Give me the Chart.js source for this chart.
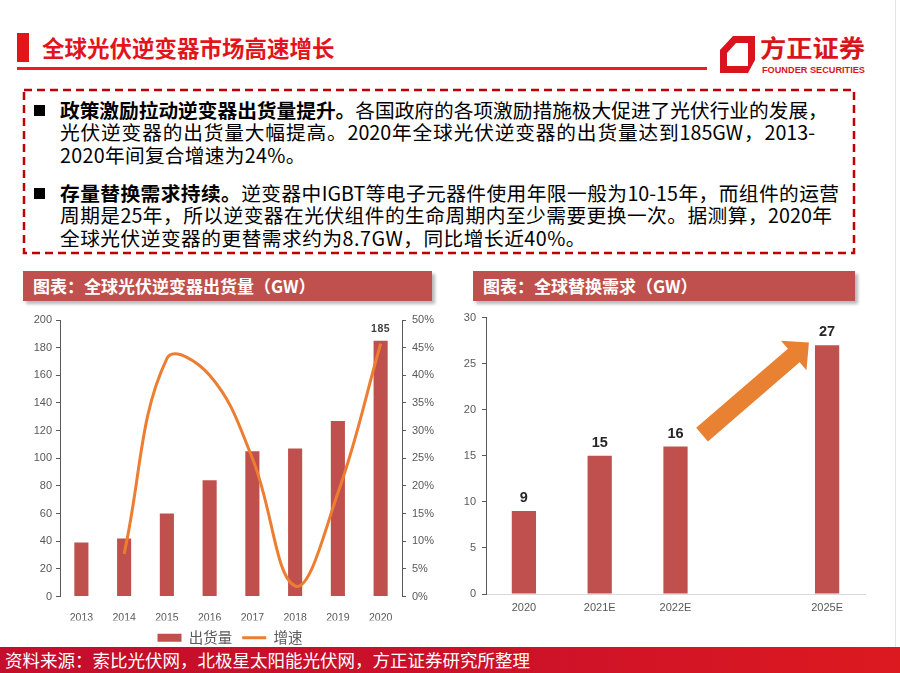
<!DOCTYPE html>
<html lang="zh-CN">
<head>
<meta charset="utf-8">
<title>全球光伏逆变器市场高速增长</title>
<script src="https://cdn.jsdelivr.net/npm/chart.js@4.4.1/dist/chart.umd.min.js"></script>
<style>
  html, body { margin: 0; padding: 0; background: #fff; }
  body { width: 900px; height: 673px; position: relative; overflow: hidden; font-family: "Noto Sans CJK SC", sans-serif; }
  .abs { position: absolute; }
  #titleBar { left: 17px; top: 33px; width: 12px; height: 29px; background: #E3141C; }
  #title { left: 42px; top: 31px; height: 32px; line-height: 32px; font-size: 22.5px; font-weight: bold; color: #E3141C; white-space: nowrap; }
  #rule { left: 17px; top: 67px; width: 690px; height: 3px; background: #EE1C25; }
  #edge { left: 895px; top: 0; width: 1px; height: 673px; background: #e4e4e4; }
  .bullet { width: 11px; height: 11px; background: #000; }
  .para { font-size: 19.7px; line-height: 22.7px; color: #000; white-space: nowrap; }
  .para .fit { text-align: justify; text-align-last: justify; }
  .hdr { height: 30px; line-height: 30px; background: #C0504D; color: #fff; font-weight: bold; font-size: 17px;
         padding-left: 10px; box-sizing: border-box; box-shadow: 3px 3px 3px rgba(0,0,0,0.28); white-space: nowrap; }
  #footer { left: 0; top: 647px; width: 900px; height: 26px; line-height: 26px; box-sizing: border-box; padding-left: 5px;
            background: linear-gradient(to right, #C40E2C, #CC1129 55%, #DC191F); color: #fff; font-size: 17.5px; white-space: nowrap; z-index: 5; }
</style>
</head>
<body>
<div class="abs" id="titleBar"></div>
<div class="abs" id="title">全球光伏逆变器市场高速增长</div>
<div class="abs" id="rule"></div>
<div class="abs" id="edge"></div>

<svg class="abs" style="left:0;top:0" width="900" height="90">
  <path fill="#D9141E" fill-rule="evenodd"
        d="M733,36 L755,36 L755,60 L748,73 L720,73 L720,50 Z M736,43 L748,43 L748,66 L727,66 L727,53 Z"/>
  <text x="760" y="57" font-family="Noto Sans CJK SC" font-weight="bold" font-size="24" fill="#D9141E"
        textLength="105" lengthAdjust="spacingAndGlyphs">方正证券</text>
  <text x="762" y="72.5" font-family="Liberation Sans" font-weight="bold" font-size="9.5" fill="#D9141E"
        textLength="103" lengthAdjust="spacingAndGlyphs">FOUNDER SECURITIES</text>
</svg>

<svg class="abs" style="left:0;top:80px" width="900" height="190">
  <rect x="24" y="10" width="830" height="163" fill="none" stroke="#C00000" stroke-width="2.5" stroke-dasharray="8 5"/>
</svg>

<div class="abs bullet" style="left:34px;top:104.5px"></div>
<div class="abs para" style="left:60px;top:98.5px">
  <div><b>政策激励拉动逆变器出货量提升。</b>各国政府的各项激励措施极大促进了光伏行业的发展，</div>
  <div class="fit" style="width:755px">光伏逆变器的出货量大幅提高。2020年全球光伏逆变器的出货量达到185GW，2013-</div>
  <div style="letter-spacing:0.3px">2020年间复合增速为24%。</div>
</div>
<div class="abs bullet" style="left:34px;top:187.5px"></div>
<div class="abs para" style="left:60px;top:181.6px">
  <div class="fit" style="width:779px"><b>存量替换需求持续。</b>逆变器中IGBT等电子元器件使用年限一般为10-15年，而组件的运营</div>
  <div class="fit" style="width:772px">周期是25年，所以逆变器在光伏组件的生命周期内至少需要更换一次。据测算，2020年</div>
  <div style="letter-spacing:0.5px">全球光伏逆变器的更替需求约为8.7GW，同比增长近40%。</div>
</div>

<div class="abs hdr" style="left:23px;top:271px;width:409px;">图表：全球光伏逆变器出货量（GW）</div>
<div class="abs hdr" style="left:473px;top:271px;width:382px;">图表：全球替换需求（GW）</div>

<canvas id="shipChart" class="abs" style="left:20px;top:305px" width="420" height="350"></canvas>
<canvas id="replaceChart" class="abs" style="left:450px;top:305px" width="430" height="313"></canvas>

<div class="abs" id="footer">资料来源：索比光伏网，北极星太阳能光伏网，方正证券研究所整理</div>

<script>
// left chart: shipments (GW) and growth (%)
const years = ['2013', '2014', '2015', '2016', '2017', '2018', '2019', '2020'];
const shipments = [39, 42, 60, 84, 105, 107, 127, 185];
const growth = [null, 7.7, 43, 40, 25, 1.9, 18.7, 45.7];

// right chart: replacement demand (GW)
const demandYears = ['2020', '2021E', '2022E', '', '2025E'];
const demand = [9, 15, 16, null, 27];

const barColor = '#C0504D';
const lineColor = '#ED7D31';
const axisColor = '#595959';

Chart.defaults.font.family = "'Liberation Sans', Arial, sans-serif";
Chart.defaults.color = axisColor;

// value labels above bars
const barValueLabels = {
    id: 'barValueLabels',
    afterDatasetsDraw(chart, args, opts) {
        const ctx = chart.ctx;
        const meta = chart.getDatasetMeta(0);
        const values = chart.data.datasets[0].data;
        ctx.save();
        ctx.font = opts.font;
        ctx.fillStyle = opts.color;
        ctx.textAlign = 'center';
        ctx.textBaseline = 'middle';
        if (opts.spacing) ctx.letterSpacing = opts.spacing;
        meta.data.forEach((bar, i) => {
            if (values[i] == null) return;
            if (opts.only && !opts.only.includes(i)) return;
            ctx.fillText(String(values[i]), bar.x, bar.y - opts.offset);
        });
        ctx.restore();
    }
};

// big orange arrow, placed in scale units
const growthArrow = {
    id: 'growthArrow',
    afterDatasetsDraw(chart, args, opts) {
        if (!opts.from) return;
        const ctx = chart.ctx;
        const xs = chart.scales.x, ys = chart.scales.y;
        const x0 = xs.getPixelForValue(opts.from[0]), y0 = ys.getPixelForValue(opts.from[1]);
        const x1 = xs.getPixelForValue(opts.to[0]), y1 = ys.getPixelForValue(opts.to[1]);
        const len = Math.hypot(x1 - x0, y1 - y0);
        const ux = (x1 - x0) / len, uy = (y1 - y0) / len;
        const nx = -uy, ny = ux;
        const hs = opts.shaft / 2, hh = opts.head / 2;
        const bx = x1 - ux * opts.headLength, by = y1 - uy * opts.headLength;
        ctx.save();
        ctx.fillStyle = opts.color;
        ctx.beginPath();
        ctx.moveTo(x0 + nx * hs, y0 + ny * hs);
        ctx.lineTo(bx + nx * hs, by + ny * hs);
        ctx.lineTo(bx + nx * hh, by + ny * hh);
        ctx.lineTo(x1, y1);
        ctx.lineTo(bx - nx * hh, by - ny * hh);
        ctx.lineTo(bx - nx * hs, by - ny * hs);
        ctx.lineTo(x0 - nx * hs, y0 - ny * hs);
        ctx.closePath();
        ctx.fill();
        ctx.restore();
    }
};

const yAxis = (width, extra) => Object.assign({
    afterFit: s => { s.width = width; },
    border: { display: true, color: axisColor, width: 1 },
    grid: { drawOnChartArea: false, drawTicks: true, tickLength: 4, color: axisColor }
}, extra);

new Chart(document.getElementById('shipChart'), {
    type: 'bar',
    data: {
        labels: years,
        datasets: [{
            label: '出货量',
            data: shipments,
            backgroundColor: barColor,
            barPercentage: 0.33,
            categoryPercentage: 1,
            yAxisID: 'y',
            order: 1
        }, {
            type: 'line',
            label: '增速',
            data: growth,
            borderColor: lineColor,
            backgroundColor: lineColor,
            borderWidth: 3,
            pointRadius: 0,
            tension: 0.4,
            yAxisID: 'y1',
            order: 0
        }]
    },
    options: {
        responsive: false,
        animation: false,
        events: [],
        layout: { padding: { top: 15, left: 0, right: 0, bottom: 0 } },
        scales: {
            x: {
                afterFit: s => { s.height = 24; },
                border: { display: false },
                grid: { display: false },
                ticks: { padding: 7, font: { size: 10.5 } }
            },
            y: yAxis(40, {
                position: 'left', min: 0, max: 200,
                ticks: { stepSize: 20, padding: 4, font: { size: 11 } }
            }),
            y1: yAxis(38, {
                position: 'right', min: 0, max: 50,
                ticks: { stepSize: 5, padding: 6, font: { size: 11 }, callback: v => v + '%' }
            })
        },
        plugins: {
            tooltip: { enabled: false },
            legend: {
                position: 'bottom',
                labels: {
                    usePointStyle: true,
                    pointStyleWidth: 24,
                    boxHeight: 8,
                    padding: 10,
                    color: axisColor,
                    font: { family: "'Noto Sans CJK SC', sans-serif", size: 14.5 },
                    sort: (a, b) => a.datasetIndex - b.datasetIndex,
                    generateLabels: chart => Chart.defaults.plugins.legend.labels.generateLabels(chart).map(item => {
                        item.pointStyle = item.datasetIndex === 0 ? 'rect' : 'line';
                        return item;
                    })
                }
            },
            barValueLabels: { only: [7], font: "bold 10.5px 'Liberation Sans', Arial", color: '#404040', offset: 12, spacing: '0.5px' }
        }
    },
    plugins: [barValueLabels]
});

new Chart(document.getElementById('replaceChart'), {
    type: 'bar',
    data: {
        labels: demandYears,
        datasets: [{
            label: '替换需求',
            data: demand,
            backgroundColor: barColor,
            barPercentage: 0.32,
            categoryPercentage: 1
        }]
    },
    options: {
        responsive: false,
        animation: false,
        events: [],
        layout: { padding: { top: 12, left: 0, right: 15, bottom: 0 } },
        scales: {
            x: {
                afterFit: s => { s.height = 24; },
                border: { display: true, color: '#D9D9D9', width: 1 },
                grid: { drawOnChartArea: false, drawTicks: false },
                ticks: { padding: 7, font: { size: 11 } }
            },
            y: yAxis(36, {
                min: 0, max: 30,
                ticks: { stepSize: 5, padding: 6, font: { size: 11 } }
            })
        },
        plugins: {
            tooltip: { enabled: false },
            legend: { display: false },
            barValueLabels: { font: "bold 14.5px 'Liberation Sans', Arial", color: '#262626', offset: 13 },
            growthArrow: { from: [2.35, 17.3], to: [3.76, 27.3], shaft: 18, head: 39, headLength: 20, color: '#E98133' }
        }
    },
    plugins: [barValueLabels, growthArrow]
});
</script>
</body>
</html>
